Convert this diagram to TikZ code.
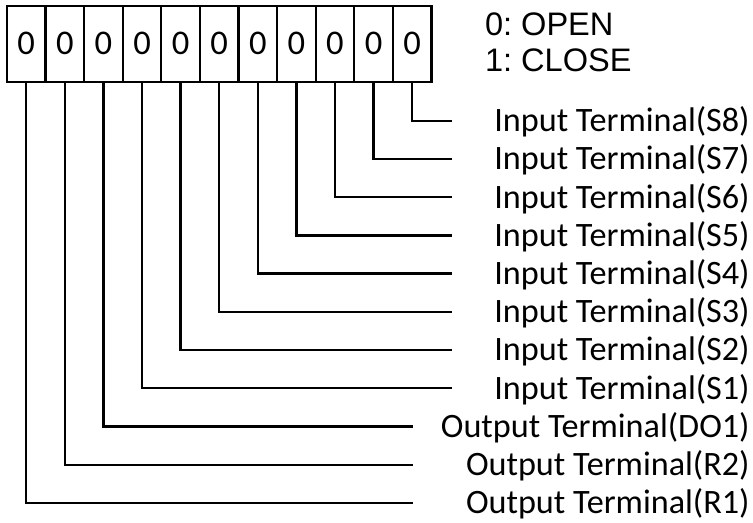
\documentclass[tikz,border=0pt]{standalone}
\usepackage{fontspec}
\setmainfont{Carlito}
\newfontfamily\legendfont{Liberation Sans}
\frenchspacing

\tikzset{
  bitbox/.style={draw, line width=1.7pt, minimum width=1cm, minimum height=1.97cm,
    inner sep=0pt, font=\fontsize{25.5}{29}\selectfont},
  legend/.style={anchor=base west, inner sep=0pt, font=\legendfont\fontsize{24}{28}\selectfont},
  terminal/.style={anchor=base east, inner sep=0pt, font=\fontsize{25.2}{29}\selectfont},
  wire/.style={line width=1.7pt},
}

\begin{document}
\begin{tikzpicture}
    \useasboundingbox (0,0) rectangle (19.51,-13.55);

    % Register bits
    \foreach \i in {0,...,10}
      \node[bitbox] (b\i) at (0.68+\i,-1.135) {0};

    % Legend
    \node[legend] (open) at (12.56,-0.907) {0: OPEN};
    \node[legend] (close) at (12.56,-1.865) {1: CLOSE};

    % Terminals
    \foreach \i/\txt/\stop in {0/Output Terminal(R1)/10.70, 1/Output Terminal(R2)/10.70,
        2/Output Terminal(DO1)/10.70, 3/Input Terminal(S1)/11.71, 4/Input Terminal(S2)/11.71,
        5/Input Terminal(S3)/11.71, 6/Input Terminal(S4)/11.71, 7/Input Terminal(S5)/11.71,
        8/Input Terminal(S6)/11.71, 9/Input Terminal(S7)/11.71, 10/Input Terminal(S8)/11.71}
    {
      \coordinate (e\i) at (\stop,{-3.13-0.99*(10-\i)});
      \node[terminal] (t\i) at (19.43,{-3.41-0.99*(10-\i)}) {\txt};
      \draw[wire] (b\i.south) |- (e\i);
    }
\end{tikzpicture}
\end{document}
